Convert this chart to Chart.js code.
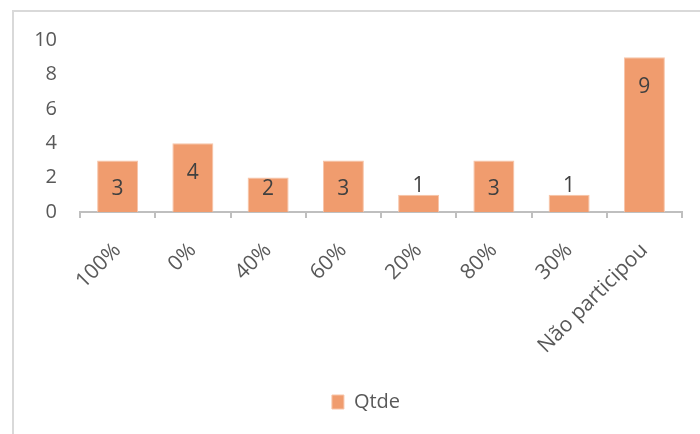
<!DOCTYPE html>
<html lang="pt-BR">
<head>
<meta charset="utf-8">
<title>Qtde</title>
<script src="https://cdn.jsdelivr.net/npm/chart.js@4"></script>
<style>
    html, body { margin: 0; padding: 0; background: #fff; overflow: hidden; }
    .frame {
        position: absolute;
        left: 12px;
        top: 10px;
        width: 800px;
        height: 500px;
        border: 2px solid #d9d9d9;
        box-sizing: border-box;
    }
    .wrap { position: absolute; left: 0; top: 0; width: 700px; height: 434px; }
</style>
</head>
<body>
<div class="frame"></div>
<div class="wrap"><canvas id="grafico" width="700" height="434"></canvas></div>
<script>
    // Dados
    const categorias = ['100%', '0%', '40%', '60%', '20%', '80%', '30%', 'Não participou'];
    const qtde = [3, 4, 2, 3, 1, 3, 1, 9];
    const ticksY = [0, 2, 4, 6, 8, 10];

    const FONTE = '"Open Sans", "Liberation Sans", Arial, sans-serif';
    const COR_TEXTO = '#595959';
    const COR_BARRA = '#F09C6E';

    // Rótulos de valor: dentro do topo da barra, ou acima quando a barra é baixa
    const rotulosValor = {
        id: 'rotulosValor',
        afterDatasetsDraw(chart) {
            const ctx = chart.ctx;
            const meta = chart.getDatasetMeta(0);
            ctx.save();
            ctx.font = '21px ' + FONTE;
            ctx.fillStyle = '#404040';
            ctx.textAlign = 'center';
            ctx.textBaseline = 'middle';
            meta.data.forEach((bar, i) => {
                const altura = bar.base - bar.y;
                let y;
                if (altura < 25) {
                    y = bar.y - 9;
                } else {
                    y = Math.min(bar.y + 30, bar.base - 23);
                }
                ctx.fillText(String(qtde[i]), bar.x, y);
            });
            ctx.restore();
        }
    };

    // A legenda fica centrada na moldura inteira, que passa da borda direita
    const deslocaLegenda = {
        id: 'deslocaLegenda',
        afterLayout(chart) {
            chart.legend.left += 25;
            chart.legend.right += 25;
        }
    };

    new Chart(document.getElementById('grafico'), {
        type: 'bar',
        data: {
            labels: categorias,
            datasets: [{
                label: 'Qtde',
                data: qtde,
                backgroundColor: COR_BARRA,
                borderColor: '#f7c4a8',
                borderWidth: 1,
                categoryPercentage: 1,
                barPercentage: 0.545
            }]
        },
        options: {
            responsive: false,
            animation: false,
            layout: { padding: { left: 0, right: 18, top: 40, bottom: 12 } },
            plugins: {
                legend: {
                    position: 'bottom',
                    labels: {
                        boxWidth: 12,
                        boxHeight: 14,
                        padding: 6,
                        color: COR_TEXTO,
                        font: { family: FONTE, size: 20 }
                    }
                },
                tooltip: { enabled: false }
            },
            scales: {
                x: {
                    afterFit(scale) { scale.height = 174; },
                    border: { display: true, color: '#bfbfbf', width: 2 },
                    grid: {
                        display: true,
                        offset: true,
                        drawOnChartArea: false,
                        drawTicks: true,
                        tickLength: 6,
                        color: '#bfbfbf',
                        lineWidth: 2
                    },
                    ticks: {
                        minRotation: 45,
                        maxRotation: 45,
                        autoSkip: false,
                        padding: 20,
                        color: COR_TEXTO,
                        font: { family: FONTE, size: 21 }
                    }
                },
                y: {
                    min: 0,
                    max: 10,
                    afterFit(scale) { scale.width = 80; },
                    afterBuildTicks(scale) { scale.ticks = ticksY.map(v => ({ value: v })); },
                    border: { display: false },
                    grid: { display: false, drawTicks: false },
                    ticks: {
                        padding: 23,
                        color: COR_TEXTO,
                        font: { family: FONTE, size: 20 }
                    }
                }
            }
        },
        plugins: [rotulosValor, deslocaLegenda]
    });
</script>
</body>
</html>
